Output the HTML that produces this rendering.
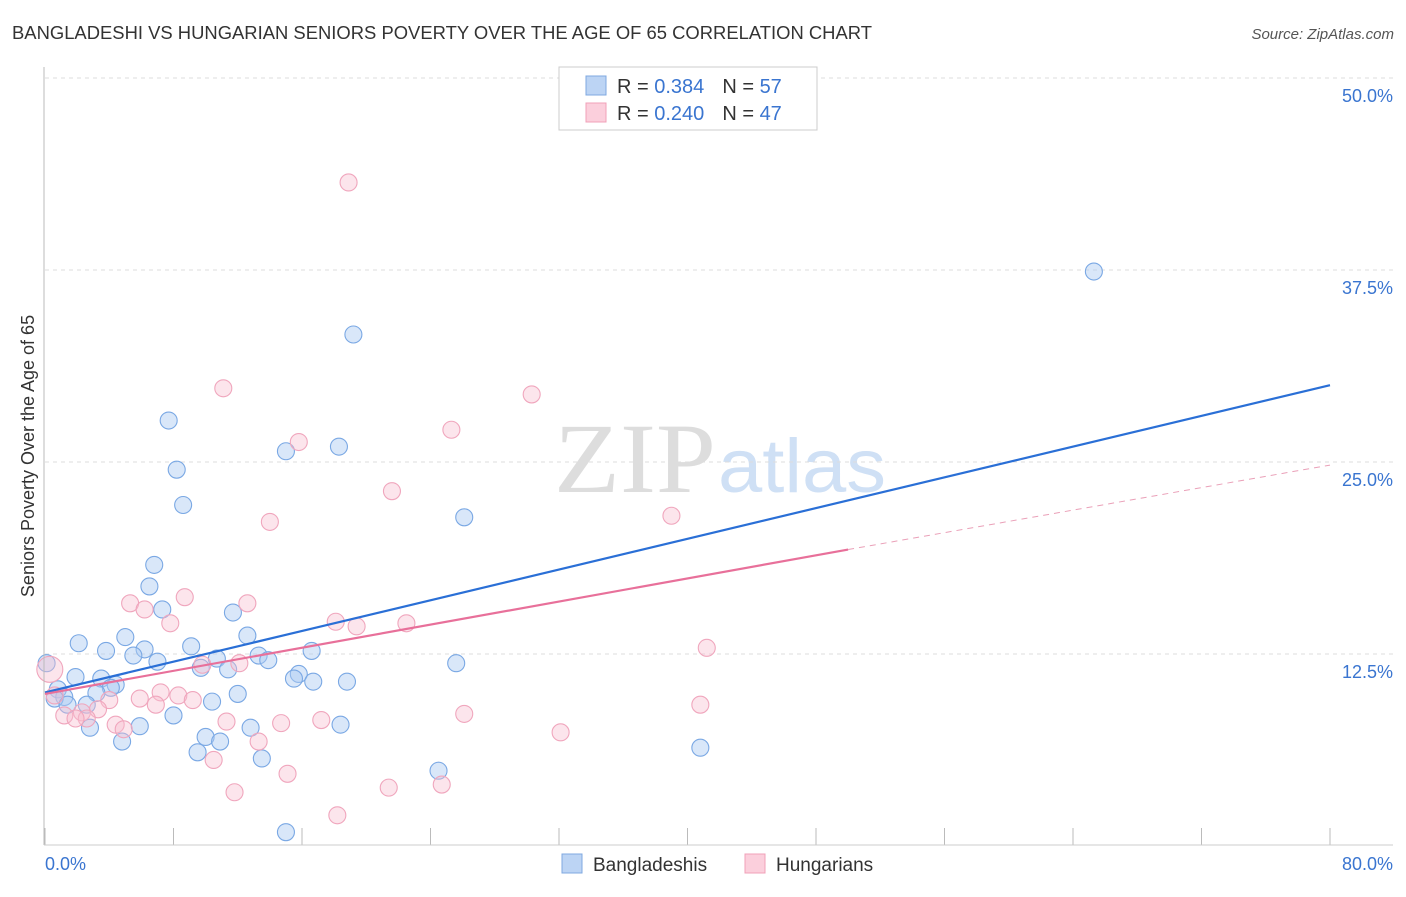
<!DOCTYPE html>
<html><head><meta charset="utf-8"><style>
body{margin:0;background:#fff;font-family:"Liberation Sans",sans-serif}
</style></head><body>
<svg id="c" width="1406" height="892" xmlns="http://www.w3.org/2000/svg" style="font-family:'Liberation Sans',sans-serif">
<text x="12" y="39" font-size="18" fill="#333" textLength="860" lengthAdjust="spacingAndGlyphs">BANGLADESHI VS HUNGARIAN SENIORS POVERTY OVER THE AGE OF 65 CORRELATION CHART</text>
<text x="1394" y="39" font-size="15" fill="#555" text-anchor="end" font-style="italic">Source: ZipAtlas.com</text>
<text x="716" y="492" font-size="100" fill="#ddd" text-anchor="end" font-family="Liberation Serif" textLength="162" lengthAdjust="spacingAndGlyphs">ZIP</text>
<text x="718" y="492" font-size="76" fill="#cfe0f5" textLength="168" lengthAdjust="spacingAndGlyphs">atlas</text>
<g id="grid"></g><g id="pts"></g><g id="trend"></g>
<line x1="44" y1="67" x2="44" y2="845" stroke="#bbb"/>
<line x1="44" y1="845" x2="1393" y2="845" stroke="#ccc"/>
<text x="34" y="456" font-size="18" fill="#333" text-anchor="middle" transform="rotate(-90 34 456)">Seniors Poverty Over the Age of 65</text>
<text x="45" y="870" font-size="18" fill="#3a75d0">0.0%</text>
<text x="1393" y="870" font-size="18" fill="#3a75d0" text-anchor="end">80.0%</text>
<g>
<rect x="559" y="67" width="258" height="63" fill="#fff" stroke="#ccc"/>
<rect x="586" y="76" width="20" height="19" fill="#bcd4f4" stroke="#7fa8e0"/>
<rect x="586" y="103" width="20" height="19" fill="#fbcfdc" stroke="#f0a0b8"/>
<text x="617" y="93" font-size="20" fill="#333">R = <tspan fill="#3a75d0">0.384</tspan><tspan dx="18">N = </tspan><tspan fill="#3a75d0">57</tspan></text>
<text x="617" y="120" font-size="20" fill="#333">R = <tspan fill="#3a75d0">0.240</tspan><tspan dx="18">N = </tspan><tspan fill="#3a75d0">47</tspan></text>
</g>
<g>
<rect x="562" y="854" width="20" height="19" fill="#bcd4f4" stroke="#7fa8e0"/>
<text x="593" y="871" font-size="19" fill="#333">Bangladeshis</text>
<rect x="745" y="854" width="20" height="19" fill="#fbcfdc" stroke="#f0a0b8"/>
<text x="776" y="871" font-size="19" fill="#333">Hungarians</text>
</g>
</svg>
<script>
const yTicks=[12.5,25,37.5,50];
const yTickLabels=["12.5%","25.0%","37.5%","50.0%"];
const xTicks=[0,8,16,24,32,40,48,56,64,72,80];
const blueX=[65.3,19.2,7.7,15.0,18.3,8.2,8.6,26.1,6.8,6.5,7.3,11.7,12.6,5.0,2.1,9.1,6.2,3.8,16.6,5.5,13.3,10.7,13.9,7.0,0.1,25.6,9.7,11.4,15.8,15.5,1.9,3.5,16.7,18.8,4.4,4.1,0.8,3.2,12.0,1.2,0.6,10.4,1.4,2.6,8.0,5.9,2.8,12.8,18.4,10.0,10.9,4.8,40.8,9.5,13.5,24.5,15.0];
const blueY=[37.4,33.3,27.7,25.7,26.0,24.5,22.2,21.4,18.3,16.9,15.4,15.2,13.7,13.6,13.2,13.0,12.8,12.7,12.7,12.4,12.4,12.2,12.1,12.0,11.9,11.9,11.6,11.5,11.2,10.9,11.0,10.9,10.7,10.7,10.5,10.3,10.2,9.96,9.9,9.7,9.6,9.4,9.2,9.2,8.5,7.8,7.7,7.7,7.9,7.1,6.8,6.8,6.4,6.1,5.7,4.9,0.9];
const pinkX=[18.9,11.1,30.3,15.8,25.3,21.6,14.0,39.0,8.7,5.3,12.6,6.2,7.8,18.1,19.4,22.5,41.2,12.1,9.8,0.3,7.2,8.3,5.9,9.2,4.0,6.9,3.3,2.3,40.8,26.1,1.2,2.6,1.9,4.4,11.3,14.7,17.2,4.9,32.1,13.3,10.5,15.1,24.7,21.4,11.8,18.2,0.6];
const pinkY=[43.2,29.8,29.4,26.3,27.1,23.1,21.1,21.5,16.2,15.8,15.8,15.4,14.5,14.6,14.3,14.5,12.9,11.9,11.8,11.5,10.0,9.8,9.6,9.5,9.5,9.2,8.9,8.7,9.2,8.6,8.5,8.3,8.3,7.9,8.1,8.0,8.2,7.6,7.4,6.8,5.6,4.7,4.0,3.8,3.5,2.0,9.8];
const blueTrend=[[0,10.0],[80,30.0]];
const pinkTrend=[[0,9.9],[50,19.3],[80,24.8]];
const X=v=>45+v/80*1285, Y=v=>846-v/12.5*192;
const NS="http://www.w3.org/2000/svg";
function mk(p,t,a){const e=document.createElementNS(NS,t);for(const k in a)e.setAttribute(k,a[k]);document.getElementById(p).appendChild(e);return e;}
yTicks.forEach((v,i)=>{
 const l=mk('grid','line',{x1:45,x2:1393,y1:Y(v),y2:Y(v),stroke:'#ddd','stroke-dasharray':'4,4'});
 
 
 const t=mk('grid','text',{x:1393,y:Y(v)+24,'font-size':18,fill:'#3a75d0','text-anchor':'end'});
 t.textContent=yTickLabels[i];
 
 
});
xTicks.forEach(v=>{
 const l=mk('grid','line',{x1:X(v),x2:X(v),y1:828,y2:845,stroke:'#bbb'});
 
 
});
blueX.forEach((x,i)=>{
 const c=mk('pts','circle',{cx:X(x),cy:Y(blueY[i]),r:8.5,fill:'rgba(170,202,242,0.45)',stroke:'#7aa8e4','stroke-width':1.1});
 
 
});
pinkX.forEach((x,i)=>{
 const c=mk('pts','circle',{cx:X(x),cy:Y(pinkY[i]),r:i==19?13:8.5,fill:'rgba(248,190,208,0.4)',stroke:'#f0a6bd','stroke-width':1.1});
 
 
});
const b=mk('trend','line',{x1:X(blueTrend[0][0]),y1:Y(blueTrend[0][1]),x2:X(blueTrend[1][0]),y2:Y(blueTrend[1][1]),stroke:'#2a6fd6','stroke-width':2.2});


const p=mk('trend','line',{x1:X(pinkTrend[0][0]),y1:Y(pinkTrend[0][1]),x2:X(pinkTrend[1][0]),y2:Y(pinkTrend[1][1]),stroke:'#e8709a','stroke-width':2.2});


const pd=mk('trend','line',{x1:X(pinkTrend[1][0]),y1:Y(pinkTrend[1][1]),x2:X(pinkTrend[2][0]),y2:Y(pinkTrend[2][1]),stroke:'#eaa0b8','stroke-width':1,'stroke-dasharray':'6,5'});


</script>
</body></html>
